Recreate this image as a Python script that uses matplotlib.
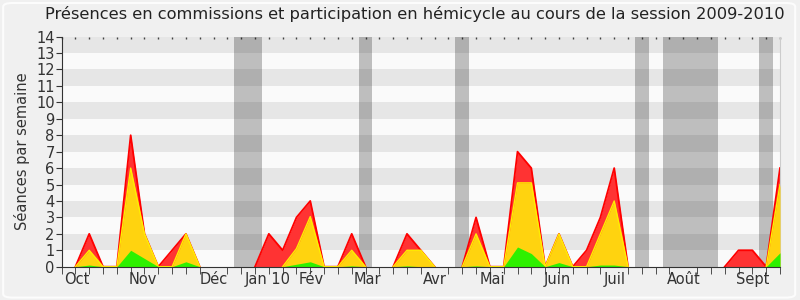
import matplotlib
matplotlib.use('Agg')
import matplotlib.pyplot as plt
from matplotlib.patches import FancyBboxPatch
import numpy as np

# weekly levels shown on the chart (week 0 .. 52)
red_top = [0, 0, 2, 0, 0, 8, 2, 0, 1, 2, 0, 0, 0, 0, 0, 2, 1, 3, 4, 0,
           0, 2, 0, 0, 0, 2, 1, 0, 0, 0, 3, 0, 0, 7, 6, 0, 2, 0, 1, 3,
           6, 0, 0, 0, 0, 0, 0, 0, 0, 1, 1, 0, 6]
yellow_top = [0, 0, 1, 0, 0, 6, 2, 0, 0, 2, 0, 0, 0, 0, 0, 0, 0, 1.1, 3.05, 0,
              0, 1, 0, 0, 0, 1, 1, 0, 0, 0, 2, 0, 0, 5.1, 5.1, 0, 2, 0, 0, 2,
              4, 0, 0, 0, 0, 0, 0, 0, 0, 0, 0, 0, 5]
green_top = [0, 0, 0.1, 0, 0, 1, 0.5, 0, 0, 0.3, 0, 0, 0, 0, 0, 0, 0, 0.15, 0.3, 0,
             0, 0.05, 0, 0, 0, 0.05, 0, 0, 0, 0, 0.05, 0, 0, 1.2, 0.8, 0, 0.25, 0, 0, 0.1,
             0.1, 0, 0, 0, 0, 0, 0, 0, 0, 0, 0, 0, 0.85]

# vacation weeks (start, end) in week units
vacances = [(12.5, 14.5), (21.5, 22.5), (28.5, 29.5), (41.5, 42.5), (43.5, 47.5), (50.5, 51.5)]

mois = ['Oct', 'Nov', 'Déc', 'Jan 10', 'Fév', 'Mar', 'Avr', 'Mai', 'Juin', 'Juil', 'Août', 'Sept']
mois_pos = [1.1, 5.9, 11.0, 14.95, 18.1, 22.15, 27.0, 31.15, 35.9, 40.0, 45.0, 50.05]

weeks = np.arange(len(red_top))


def edge(vals):
    # hide the outline where the series stays flat on zero
    v = np.array(vals, dtype=float)
    keep = np.zeros(len(v), dtype=bool)
    nz = v > 0
    keep |= nz
    keep[1:] |= nz[:-1]
    keep[:-1] |= nz[1:]
    return np.where(keep, v, np.nan)


fig = plt.figure(figsize=(8, 3), dpi=100)
fig.set_facecolor('#F0F0F0')
fig.patches.append(FancyBboxPatch((0.004, 0.008), 0.99, 0.982, boxstyle='round,pad=0,rounding_size=0.012',
                                  transform=fig.transFigure, facecolor='none', edgecolor='#FCFCFC', lw=1.5))

ax = fig.add_axes([0.077, 0.111, 0.898, 0.767])
ax.set_facecolor('#FAFAFA')

for k in range(1, 14, 2):
    ax.axhspan(k, k + 1, color='#E6E6E6', lw=0, zorder=0)
for a, b in vacances:
    ax.axvspan(a, b, color='black', alpha=0.24, lw=0, zorder=1)

ax.fill_between(weeks, 0, red_top, color='#FF3333', lw=0, zorder=2)
ax.plot(weeks, edge(red_top), color='#FF0000', lw=1.3, zorder=3)
ax.fill_between(weeks, 0, yellow_top, color='#FFD30F', lw=0, zorder=4)
ax.plot(weeks, edge(yellow_top), color='#FFEE00', lw=1.0, zorder=5)
ax.fill_between(weeks, 0, green_top, color='#2EF000', lw=0, zorder=6)

ax.set_xlim(0, 52)
ax.set_ylim(0, 14)
ax.set_yticks(range(0, 15))
ax.set_xticks(mois_pos)
ax.set_xticklabels(mois)
ax.set_xticks(weeks, minor=True)
ax.tick_params(axis='x', which='major', length=0, pad=4, labelsize=10.5, colors='#333333')
ax.tick_params(axis='x', which='minor', length=5, color='#333333')
ax.tick_params(axis='y', length=4, labelsize=10.5, colors='#333333', pad=1)

top = ax.secondary_xaxis('top')
top.set_xticks(weeks)
top.tick_params(length=1.5, width=1, direction='in', labeltop=False, color='#444444')
top.spines['top'].set_visible(False)

ax.spines['top'].set_visible(False)
ax.spines['right'].set_color('#CCCCCC')
ax.spines['left'].set_color('#333333')
ax.spines['bottom'].set_color('#333333')
ax.spines['bottom'].set_zorder(10)

ax.set_ylabel('Séances par semaine', fontsize=10.5, color='#333333', labelpad=4)
fig.text(0.518, 0.955, 'Présences en commissions et participation en hémicycle au cours de la session 2009-2010',
         ha='center', va='center', fontsize=11.7, color='#222222')

plt.savefig('out.png', dpi=100, facecolor=fig.get_facecolor())
plt.close()
